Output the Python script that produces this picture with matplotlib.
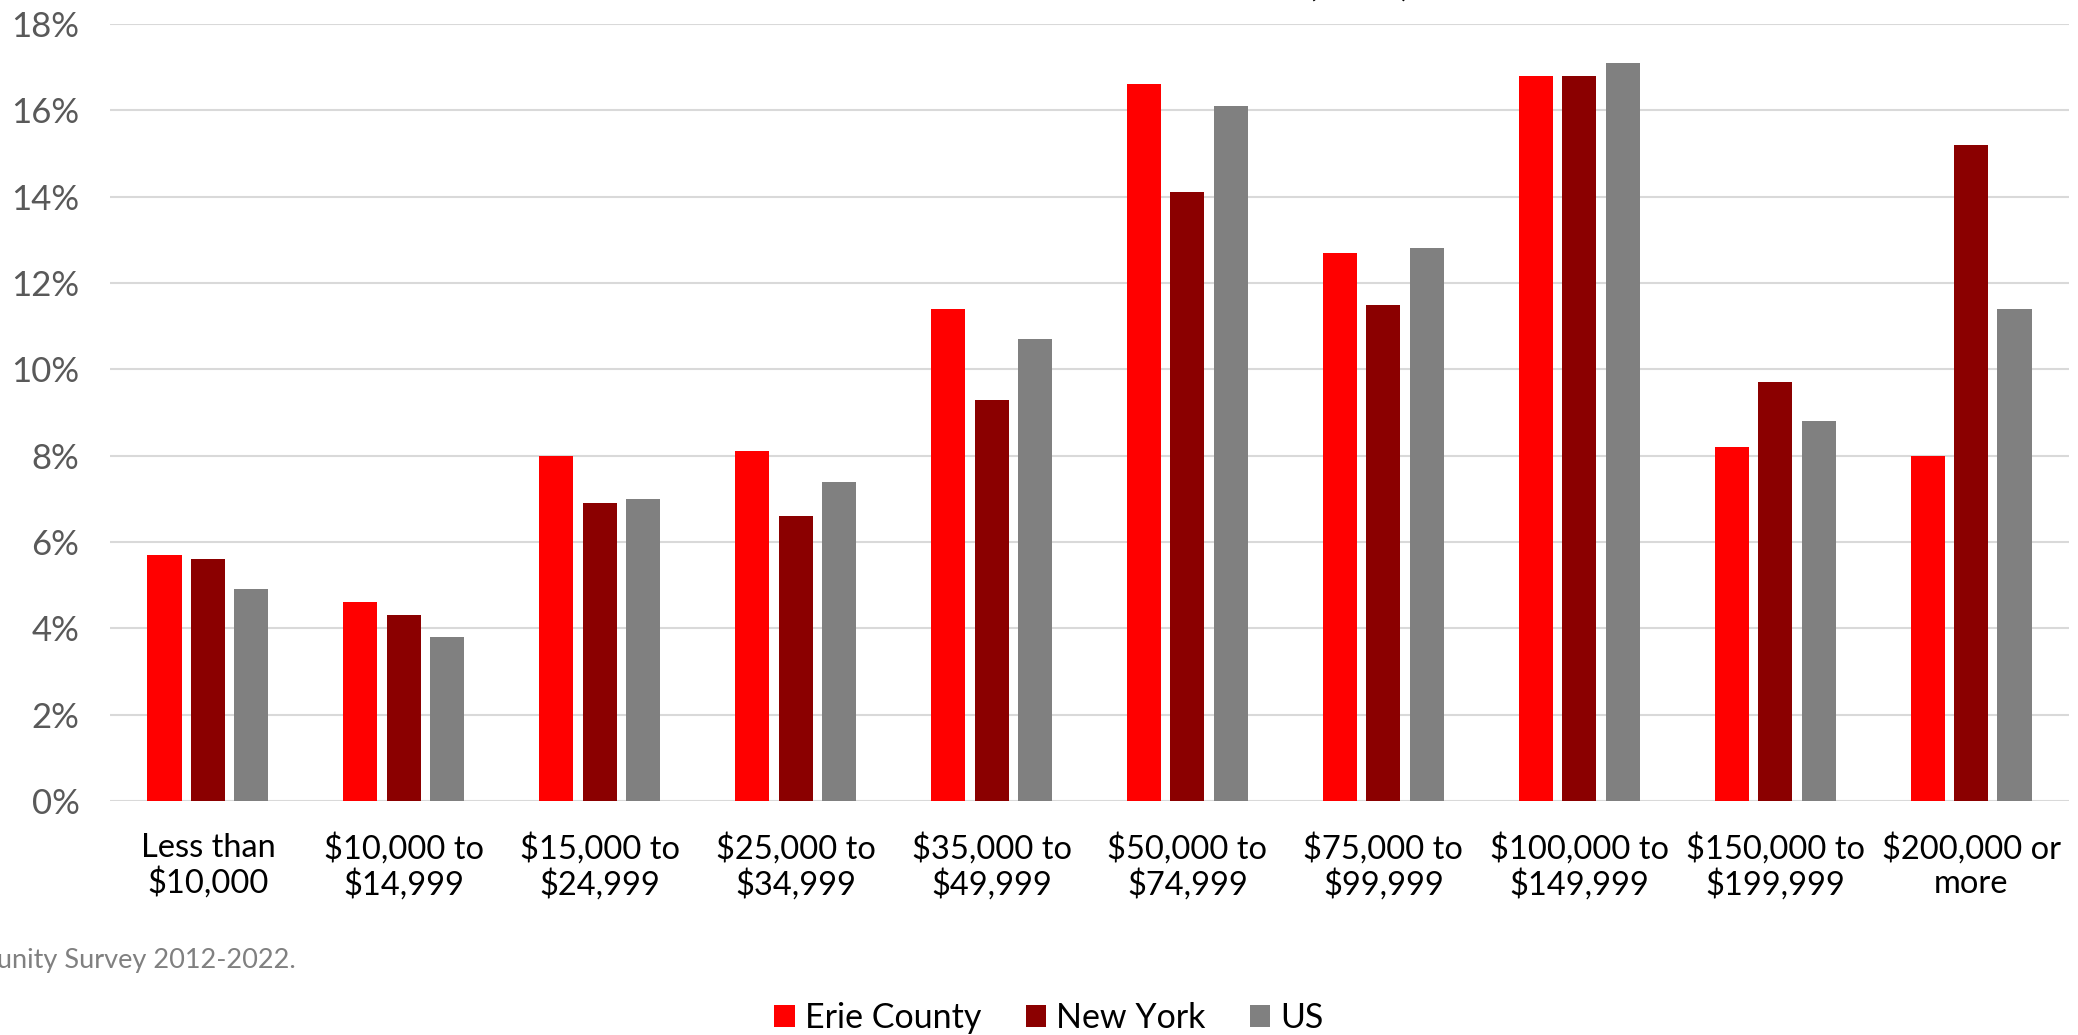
import matplotlib
matplotlib.use("Agg")
import matplotlib.pyplot as plt
import numpy as np

plt.rcParams['font.family'] = ['Lato', 'DejaVu Sans']

categories = ["Less than\n$10,000", "$10,000 to\n$14,999", "$15,000 to\n$24,999",
              "$25,000 to\n$34,999", "$35,000 to\n$49,999", "$50,000 to\n$74,999",
              "$75,000 to\n$99,999", "$100,000 to\n$149,999", "$150,000 to\n$199,999",
              "$200,000 or\nmore"]
erie = [5.7, 4.6, 8.0, 8.1, 11.4, 16.6, 12.7, 16.8, 8.2, 8.0]
new_york = [5.6, 4.3, 6.9, 6.6, 9.3, 14.1, 11.5, 16.8, 9.7, 15.2]
us = [4.9, 3.8, 7.0, 7.4, 10.7, 16.1, 12.8, 17.1, 8.8, 11.4]
series_names = ["Erie County", "New York", "US"]
colors = ["#ff0000", "#8b0000", "#808080"]
yticks = [0, 2, 4, 6, 8, 10, 12, 14, 16, 18]

W, H = 2078, 1035
fig = plt.figure(figsize=(W / 100, H / 100), dpi=100)
ax = fig.add_axes([110 / W, 1 - 801 / H, 1959 / W, 777 / H])

x = np.arange(len(categories))
step = 0.222
width = 0.174
for i, (vals, name, c) in enumerate(zip([erie, new_york, us], series_names, colors)):
    ax.bar(x + (i - 1) * step, vals, width, color=c, label=name, zorder=3)

ax.set_xlim(-0.5, len(categories) - 0.5)
ax.set_ylim(0, 18)
ax.set_yticks(yticks)
ax.set_yticklabels([f"{t}%" for t in yticks])
ax.set_xticks(x)
ax.set_xticklabels(categories, linespacing=1.15)
ax.grid(axis='y', color='#d9d9d9', linewidth=1.5, zorder=0)
ax.set_axisbelow(True)
for s in ax.spines.values():
    s.set_visible(False)
ax.tick_params(axis='x', length=0, pad=23, labelsize=23.5, labelcolor='black')
ax.tick_params(axis='y', length=0, pad=22, labelsize=25, labelcolor='#595959')

# title sits mostly above the visible area
fig.text(1410 / W, 1 + 3 / H, "Household Income Distribution (2022)", ha='right',
         va='baseline', fontsize=26, color='black')

fig.text(296 / W, 1 - 968 / H, "Source: U.S. Census Bureau, American Community Survey 2012-2022.",
         ha='right', va='baseline', fontsize=19.5, color='#808080')

leg = fig.legend(loc='center', bbox_to_anchor=(1049 / W, 1 - 1018 / H), ncol=3, frameon=False,
                 fontsize=24.5, handlelength=0.6, handleheight=0.6, handletextpad=0.3,
                 columnspacing=1.3)

fig.savefig("out.png", dpi=100)
